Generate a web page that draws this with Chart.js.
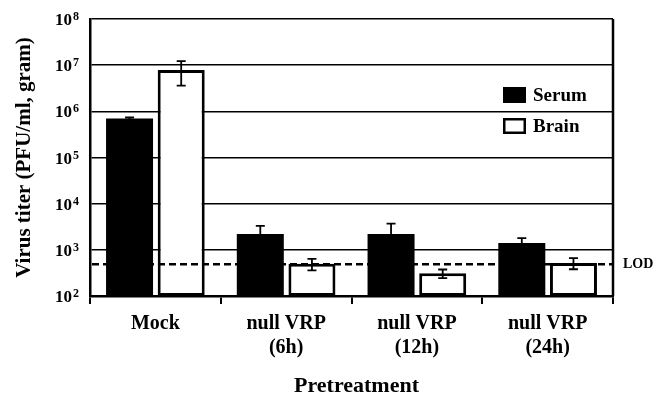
<!DOCTYPE html>
<html>
<head>
<meta charset="utf-8">
<script src="https://cdn.jsdelivr.net/npm/chart.js@4/dist/chart.umd.min.js"></script>
<style>
  html, body { margin: 0; padding: 0; background: #fff; }
  #wrap { width: 665px; height: 398px; }
</style>
</head>
<body>
<div id="wrap"><canvas id="c" width="665" height="398"></canvas></div>
<script>
// Virus titer after pretreatment, serum vs brain (log scale)
const categories = ['Mock', ['null VRP', '(6h)'], ['null VRP', '(12h)'], ['null VRP', '(24h)']];
const serumValues = [700000, 2200, 2200, 1400];
const serumErrors = [40000, 1100, 1500, 400];
const brainValues = [7900000, 500, 310, 520];
const brainErrors = [4300000, 140, 65, 140];
const yTickExponents = [2, 3, 4, 5, 6, 7, 8];
const lodValue = 490;

const SERIF = '"Liberation Serif", "Times New Roman", serif';
Chart.defaults.font.family = SERIF;
Chart.defaults.color = '#000';

const decorations = {
  id: 'decorations',
  afterDatasetsDraw(chart) {
    const ctx = chart.ctx;
    const area = chart.chartArea;
    const y = chart.scales.y;

    // detection limit line across the plot
    const ly = y.getPixelForValue(lodValue);
    ctx.save();
    ctx.strokeStyle = '#000';
    ctx.lineWidth = 2.5;
    ctx.setLineDash([7, 4]);
    ctx.beginPath();
    ctx.moveTo(area.left + 2, ly);
    ctx.lineTo(area.right, ly);
    ctx.stroke();
    ctx.restore();

    // error bars
    const errs = [serumErrors, brainErrors];
    chart.data.datasets.forEach((ds, di) => {
      const meta = chart.getDatasetMeta(di);
      meta.data.forEach((bar, i) => {
        const v = ds.data[i];
        const e = errs[di][i];
        const yTop = y.getPixelForValue(v + e);
        const yBot = y.getPixelForValue(Math.max(v - e, 101));
        ctx.save();
        ctx.strokeStyle = '#000';
        ctx.lineWidth = 1.8;
        ctx.beginPath();
        ctx.moveTo(bar.x, yTop);
        ctx.lineTo(bar.x, yBot);
        ctx.moveTo(bar.x - 4.5, yTop);
        ctx.lineTo(bar.x + 4.5, yTop);
        ctx.moveTo(bar.x - 4.5, yBot);
        ctx.lineTo(bar.x + 4.5, yBot);
        ctx.stroke();
        ctx.restore();
      });
    });
  },
  afterDraw(chart) {
    const ctx = chart.ctx;
    const area = chart.chartArea;
    const y = chart.scales.y;

    // right frame line
    ctx.save();
    ctx.strokeStyle = '#000';
    ctx.lineWidth = 2.5;
    ctx.beginPath();
    ctx.moveTo(area.right, area.top);
    ctx.lineTo(area.right, area.bottom);
    ctx.stroke();
    ctx.restore();

    // y tick labels as powers of ten
    ctx.save();
    ctx.fillStyle = '#000';
    yTickExponents.forEach(p => {
      const py = y.getPixelForValue(Math.pow(10, p));
      ctx.font = 'bold 17px ' + SERIF;
      ctx.textAlign = 'right';
      ctx.textBaseline = 'alphabetic';
      ctx.fillText('10', area.left - 18, py + 6);
      ctx.font = 'bold 12px ' + SERIF;
      ctx.textAlign = 'left';
      ctx.fillText(String(p), area.left - 17, py + 1);
    });
    ctx.restore();

    // y axis title
    ctx.save();
    ctx.fillStyle = '#000';
    ctx.font = 'bold 21px ' + SERIF;
    ctx.textAlign = 'center';
    ctx.textBaseline = 'middle';
    ctx.translate(25, (area.top + area.bottom) / 2);
    ctx.rotate(-Math.PI / 2);
    ctx.fillText('Virus titer (PFU/ml, gram)', 0, 0);
    ctx.restore();

    // x axis title
    ctx.save();
    ctx.fillStyle = '#000';
    ctx.font = 'bold 22px ' + SERIF;
    ctx.textAlign = 'center';
    ctx.textBaseline = 'alphabetic';
    ctx.fillText('Pretreatment', (area.left + area.right) / 2 + 5, 392);
    ctx.restore();

    // LOD label
    const ly = y.getPixelForValue(lodValue);
    ctx.save();
    ctx.fillStyle = '#000';
    ctx.font = 'bold 14px ' + SERIF;
    ctx.textAlign = 'left';
    ctx.textBaseline = 'middle';
    ctx.fillText('LOD', area.right + 10, ly);
    ctx.restore();

    // legend
    ctx.save();
    const lx = 503;
    const entries = [
      { label: chart.data.datasets[0].label, fill: '#000', border: null, y: 95 },
      { label: chart.data.datasets[1].label, fill: '#fff', border: '#000', y: 126 }
    ];
    entries.forEach(en => {
      ctx.fillStyle = en.fill;
      ctx.fillRect(lx, en.y - 8, 23, 16);
      if (en.border) {
        ctx.strokeStyle = en.border;
        ctx.lineWidth = 2.5;
        ctx.strokeRect(lx + 1.25, en.y - 6.75, 20.5, 13.5);
      }
      ctx.fillStyle = '#000';
      ctx.font = 'bold 19px ' + SERIF;
      ctx.textAlign = 'left';
      ctx.textBaseline = 'middle';
      ctx.fillText(en.label, lx + 30, en.y + 1);
    });
    ctx.restore();
  }
};

new Chart(document.getElementById('c'), {
  type: 'bar',
  data: {
    labels: categories,
    datasets: [
      {
        label: 'Serum',
        data: serumValues,
        backgroundColor: '#000',
        borderColor: '#000',
        borderWidth: 0
      },
      {
        label: 'Brain',
        data: brainValues,
        backgroundColor: '#fff',
        borderColor: '#000',
        borderWidth: 3,
        borderSkipped: false
      }
    ]
  },
  options: {
    responsive: false,
    animation: false,
    devicePixelRatio: 1,
    layout: { padding: { left: 0, right: 52, top: 19, bottom: 0 } },
    datasets: {
      bar: { categoryPercentage: 0.79, barPercentage: 0.91 }
    },
    plugins: {
      legend: { display: false },
      tooltip: { enabled: false }
    },
    scales: {
      x: {
        offset: true,
        grid: {
          display: true,
          offset: true,
          drawOnChartArea: false,
          drawTicks: true,
          tickLength: 8,
          color: '#000',
          lineWidth: 2
        },
        border: { display: true, color: '#000', width: 2.5 },
        ticks: {
          color: '#000',
          font: { size: 20, weight: 'bold', lineHeight: 1.2 },
          padding: 8,
          maxRotation: 0,
          autoSkip: false
        },
        afterFit(scale) { scale.height = 102; }
      },
      y: {
        type: 'logarithmic',
        min: 100,
        max: 100000000,
        afterBuildTicks(scale) {
          scale.ticks = yTickExponents.map(p => ({ value: Math.pow(10, p) }));
        },
        grid: {
          display: true,
          drawTicks: false,
          color: '#000',
          lineWidth: 1.6
        },
        border: { display: true, color: '#000', width: 2.5 },
        ticks: { display: false },
        afterFit(scale) { scale.width = 90; }
      }
    }
  },
  plugins: [decorations]
});
</script>
</body>
</html>
